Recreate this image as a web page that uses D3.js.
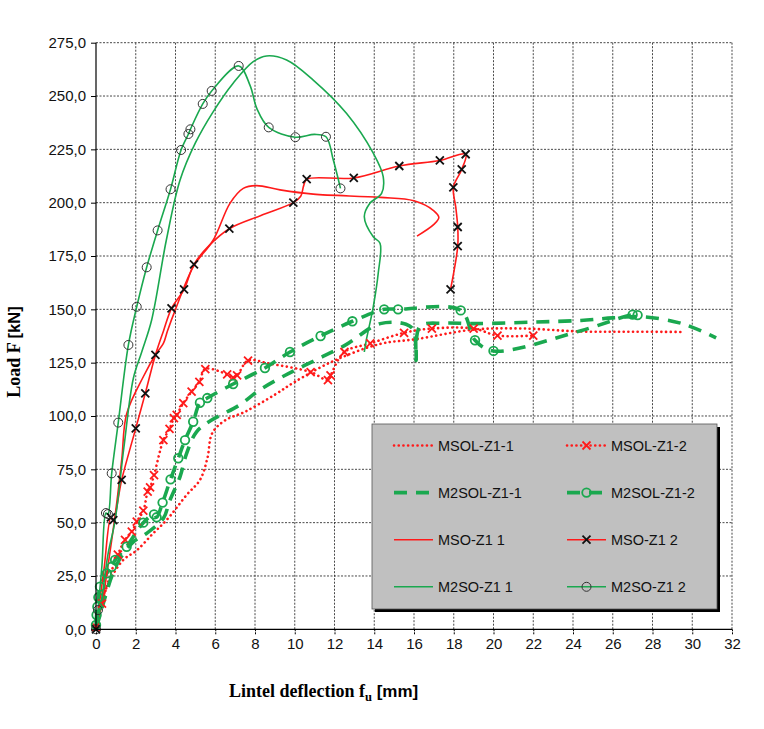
<!DOCTYPE html>
<html>
<head>
<meta charset="utf-8">
<script src="https://cdn.jsdelivr.net/npm/d3@7"></script>
<style>
  html, body { margin: 0; padding: 0; background: #fff; }
  svg { display: block; }
</style>
</head>
<body>
<svg id="chart" width="764" height="729"></svg>
<script>
// Axis ticks
const xTicks = d3.range(0, 33, 2);
const yTicks = d3.range(0, 276, 25);

// Load–deflection curves: [deflection mm, load kN, marker flag]
const msolZ1_1 = [[0,0],[0.2,10.6],[0.7,23],[1.37,32.5],[2.05,37],[2.88,45],[3.55,51.2],[4.56,63],[5.23,70],[5.6,80],[5.85,92],[6.5,98],[7.5,102],[9,110],[10,116],[12,126],[14.3,133.8],[16.1,136],[19,140.5],[21.5,141],[24.4,139.6],[27,139.5],[29.6,139.4]];

const msolZ1_2 = [[0,1,1],[0.3,12,1],[0.7,25],[1.1,35,1],[1.46,41.9,1],[1.8,45.8,1],[2.05,50.5,1],[2.38,55.6,1],[2.6,64.5,1],[2.72,66.5,1],[2.92,72.3,1],[3.39,88.7,1],[3.7,94,1],[3.92,99,1],[4.06,100.5,1],[4.39,106,1],[4.81,111.4,1],[5.2,116,1],[5.5,122,1],[6.6,119.5,1],[6.9,118,1],[7.1,119,1],[7.65,126,1],[8.75,124.5],[10.8,120.6,1],[11.67,116.8,1],[11.8,119,1],[12.5,130,1],[13.8,134,1],[15.5,139,1],[16.9,141,1],[19,141,1],[20.2,137.7,1],[22,137.7,1]];

const m2solZ1_1 = [[0,0],[0.3,10],[0.8,25],[1.2,33],[1.88,41],[2.55,45],[3.39,52],[3.7,60],[4.23,71.6],[4.56,82.5],[5.06,92.6],[5.8,98],[7.2,105],[8.2,112],[9.5,119],[11,126],[12.5,133],[14.3,143.3],[15.6,143],[16.0,140],[16.1,126],[16.3,142],[17.5,143.5],[19,143.3],[22,144],[24.4,144.8],[26,146],[27.5,146.5],[29.5,143.3],[31.2,136.6]];

const m2solZ1_2 = [[0,2,1],[0.03,6.7,1],[0.07,10.6,1],[0.12,15,1],[0.2,20,1],[0.54,26.2,1],[0.79,29.3,1],[0.96,32.5,1],[1.54,38.7,1],[2.38,50,1],[2.92,53.9,1],[3.05,52.5,1],[3.35,59.4,1],[3.75,70.3,1],[4.14,80.2,1],[4.48,88.7,1],[4.89,97.3,1],[5.23,106.2,1],[5.6,108.4,1],[6.9,115,1],[8.5,122.5,1],[9.76,130,1],[11.3,137.5,1],[12.9,144.4,1],[14.5,150,1],[15.2,150,1],[18.35,149.5,1],[19.07,135.5,1],[20,130.5,1],[24.4,140],[27.0,147.5,1],[27.25,147.3,1]];

const msoZ1_1 = [[0,0],[0.3,12],[0.7,36],[1.04,59],[1.3,80],[1.54,101],[2.38,118.4],[3.04,129.4],[3.39,134],[3.6,140],[4.0,150],[4.9,170],[5.9,182.5],[6.74,199.7],[7.41,206.7],[8.08,208],[9.26,206],[10.93,204],[14.3,202.5],[16,200.9],[17,196.2],[17.25,193],[17,189.8],[16.15,184.3]];

const msoZ1_2 = [[0,0,1],[0.4,28],[0.75,52.5,1],[0.87,51.2,1],[1.29,70,1],[2.0,94.2,1],[2.48,110.6,1],[2.99,128.6,1],[3.4,140],[3.8,150.5,1],[4.43,159.4,1],[4.93,171.1,1],[5.7,180],[6.71,187.8,1],[8.3,194],[9.93,200,1],[10.3,203],[10.45,208],[10.6,211,1],[12.97,211.6,1],[15.26,217.2,1],[17.3,219.8,1],[18.6,222.7,1],[18.4,215.6,1],[17.98,207.2,1],[18.1,198],[18.2,188.6,1],[18.2,179.6,1],[17.84,159.4,1]];

const m2soZ1_1 = [[0,0],[0.3,15],[0.6,35],[0.96,51],[1.4,85],[1.88,117.7],[2.3,130],[2.8,145],[3.54,182.5],[4.23,210.6],[5.0,228],[5.9,242.7],[6.9,256],[7.91,266.1],[8.58,268.8],[9.59,266.9],[10.93,257.5],[12.6,241.9],[13.95,223.2],[14.45,212.2],[14.37,204.4],[13.78,199.7],[13.5,193.4],[13.95,184],[14.29,181],[14.2,166.9],[13.95,151.2],[13.6,135.6],[13.5,130]];

const m2soZ1_2 = [[0,0,1],[0.1,9,1],[0.3,30],[0.5,54.5,1],[0.6,54,1],[0.79,73.1,1],[1.12,96.9,1],[1.63,133.3,1],[2.05,151.2,1],[2.55,169.7,1],[3.1,187,1],[3.75,206.3,1],[4.28,224.7,1],[4.65,232.2,1],[4.75,234.4,1],[5.37,246.3,1],[5.82,252.4,1],[7.18,264.1,1],[7.75,255],[8.1,244],[8.69,235.3,1],[10.03,230.7,1],[11,232],[11.57,230.9,1],[11.94,220],[12.3,206.7,1]];

const seriesNames = ["MSOL-Z1-1","MSOL-Z1-2","M2SOL-Z1-1","M2SOL-Z1-2","MSO-Z1 1","MSO-Z1 2","M2SO-Z1 1","M2SO-Z1 2"];

const RED = "#ff1a1a";
const GREEN = "#1aa84f";

const series = [
  { name: seriesNames[0], data: msolZ1_1, stroke: RED, width: 2.6, dash: "0.1,4.6", cap: "round", marker: null },
  { name: seriesNames[1], data: msolZ1_2, stroke: RED, width: 2.6, dash: "0.1,4.6", cap: "round", marker: { type: "x", color: RED, width: 1.8, size: 4 } },
  { name: seriesNames[2], data: m2solZ1_1, stroke: GREEN, width: 3.6, dash: "13,9", cap: "butt", marker: null },
  { name: seriesNames[3], data: m2solZ1_2, stroke: GREEN, width: 3.6, dash: "13,9", cap: "butt", marker: { type: "o", color: GREEN, width: 1.8, size: 4.3 } },
  { name: seriesNames[4], data: msoZ1_1, stroke: RED, width: 1.6, dash: null, cap: "butt", marker: null },
  { name: seriesNames[5], data: msoZ1_2, stroke: RED, width: 1.6, dash: null, cap: "butt", marker: { type: "x", color: "#111", width: 1.8, size: 4 } },
  { name: seriesNames[6], data: m2soZ1_1, stroke: GREEN, width: 1.6, dash: null, cap: "butt", marker: null },
  { name: seriesNames[7], data: m2soZ1_2, stroke: GREEN, width: 1.6, dash: null, cap: "butt", marker: { type: "o", color: "#333", width: 1, size: 4.5 } }
];

const svg = d3.select("#chart");
const plot = { left: 96, right: 732, top: 42.7, bottom: 629.3 };

const x = d3.scaleLinear().domain([0, 32]).range([plot.left, plot.right]);
const y = d3.scaleLinear().domain([0, 275]).range([plot.bottom, plot.top]);

// grid
const grid = svg.append("g").attr("stroke", "#333").attr("stroke-width", 0.9).attr("stroke-dasharray", "2,1.5");
grid.selectAll("line.v").data(xTicks.filter(d => d > 0)).join("line")
  .attr("x1", d => x(d)).attr("x2", d => x(d)).attr("y1", plot.top).attr("y2", plot.bottom);
grid.selectAll("line.h").data(yTicks.filter(d => d > 0)).join("line")
  .attr("x1", plot.left).attr("x2", plot.right).attr("y1", d => y(d)).attr("y2", d => y(d));

// curves
const line = d3.line().x(d => x(d[0])).y(d => y(d[1])).curve(d3.curveCatmullRom.alpha(0.5));
const curves = svg.append("g").attr("fill", "none");
series.forEach(s => {
  curves.append("path").attr("d", line(s.data))
    .attr("stroke", s.stroke).attr("stroke-width", s.width)
    .attr("stroke-dasharray", s.dash).attr("stroke-linecap", s.cap).attr("stroke-linejoin", "round");
});

function drawMarker(g, cx, cy, m) {
  if (m.type === "x") {
    const r = m.size;
    g.append("path").attr("d", `M${cx - r},${cy - r}L${cx + r},${cy + r}M${cx - r},${cy + r}L${cx + r},${cy - r}`)
      .attr("stroke", m.color).attr("stroke-width", m.width).attr("fill", "none");
  } else {
    g.append("circle").attr("cx", cx).attr("cy", cy).attr("r", m.size)
      .attr("stroke", m.color).attr("stroke-width", m.width).attr("fill", "none");
  }
}

const markers = svg.append("g");
series.filter(s => s.marker).forEach(s => {
  s.data.filter(d => d[2]).forEach(d => drawMarker(markers, x(d[0]), y(d[1]), s.marker));
});

// axes
const font = "'Liberation Sans', Arial, sans-serif";
const xAxis = d3.axisBottom(x).tickValues(xTicks).tickSize(5).tickPadding(4).tickFormat(d3.format("d"));
const yAxis = d3.axisLeft(y).tickValues(yTicks).tickSize(5).tickPadding(5).tickFormat(d => d3.format(".1f")(d).replace(".", ","));

const gx = svg.append("g").attr("transform", `translate(0,${plot.bottom})`).call(xAxis);
const gy = svg.append("g").attr("transform", `translate(${plot.left},0)`).call(yAxis);
[gx, gy].forEach(g => {
  g.select(".domain").attr("stroke", "#000").attr("stroke-width", 1.2);
  g.selectAll(".tick line").attr("stroke", "#000");
  g.selectAll(".tick text").attr("font-family", font).attr("font-size", 15).attr("fill", "#111");
});
gx.select(".domain").attr("d", `M${plot.left},0H${plot.right}`);
gy.select(".domain").attr("d", `M0,${plot.bottom}V${plot.top}`);
gx.selectAll(".tick line").attr("stroke-dasharray", "2,1");

// axis titles
svg.append("text")
  .attr("transform", "translate(20,352) rotate(-90)")
  .attr("text-anchor", "middle")
  .attr("font-weight", "bold").attr("font-size", 18)
  .attr("font-family", "'Liberation Serif', 'Times New Roman', serif")
  .call(t => {
    t.append("tspan").text("Load F ");
    t.append("tspan").attr("font-family", font).attr("font-size", 16.5).text("[kN]");
  });

svg.append("text")
  .attr("x", 229).attr("y", 697)
  .attr("font-weight", "bold").attr("font-size", 18)
  .attr("font-family", "'Liberation Serif', 'Times New Roman', serif")
  .call(t => {
    t.append("tspan").text("Lintel deflection f");
    t.append("tspan").attr("font-size", 12.5).attr("dy", 4).text("u");
    t.append("tspan").attr("dy", -4).attr("font-family", font).attr("font-size", 17).text(" [mm]");
  });

// legend
const lg = svg.append("g");
const box = { x: 372, y: 424, w: 345, h: 185 };
lg.append("rect").attr("x", box.x + 3).attr("y", box.y + 3).attr("width", box.w).attr("height", box.h).attr("fill", "#000");
lg.append("rect").attr("x", box.x).attr("y", box.y).attr("width", box.w).attr("height", box.h)
  .attr("fill", "#c0c0c0").attr("stroke", "#555").attr("stroke-width", 0.8);

const legendOrder = [0, 2, 4, 6, 1, 3, 5, 7];
legendOrder.forEach((si, i) => {
  const s = series[si];
  const col = Math.floor(i / 4), row = i % 4;
  const x0 = col === 0 ? 394 : 567;
  const x1 = x0 + 39;
  const yy = 445.5 + row * 47.1;
  lg.append("line").attr("x1", x0).attr("x2", x1).attr("y1", yy).attr("y2", yy)
    .attr("stroke", s.stroke).attr("stroke-width", s.width)
    .attr("stroke-dasharray", s.dash).attr("stroke-linecap", s.cap);
  if (s.marker) drawMarker(lg, (x0 + x1) / 2, yy, s.marker);
  lg.append("text").attr("x", x1 + 5).attr("y", yy + 5)
    .attr("font-family", font).attr("font-size", 14.5).attr("fill", "#111")
    .text(s.name);
});
</script>
</body>
</html>
